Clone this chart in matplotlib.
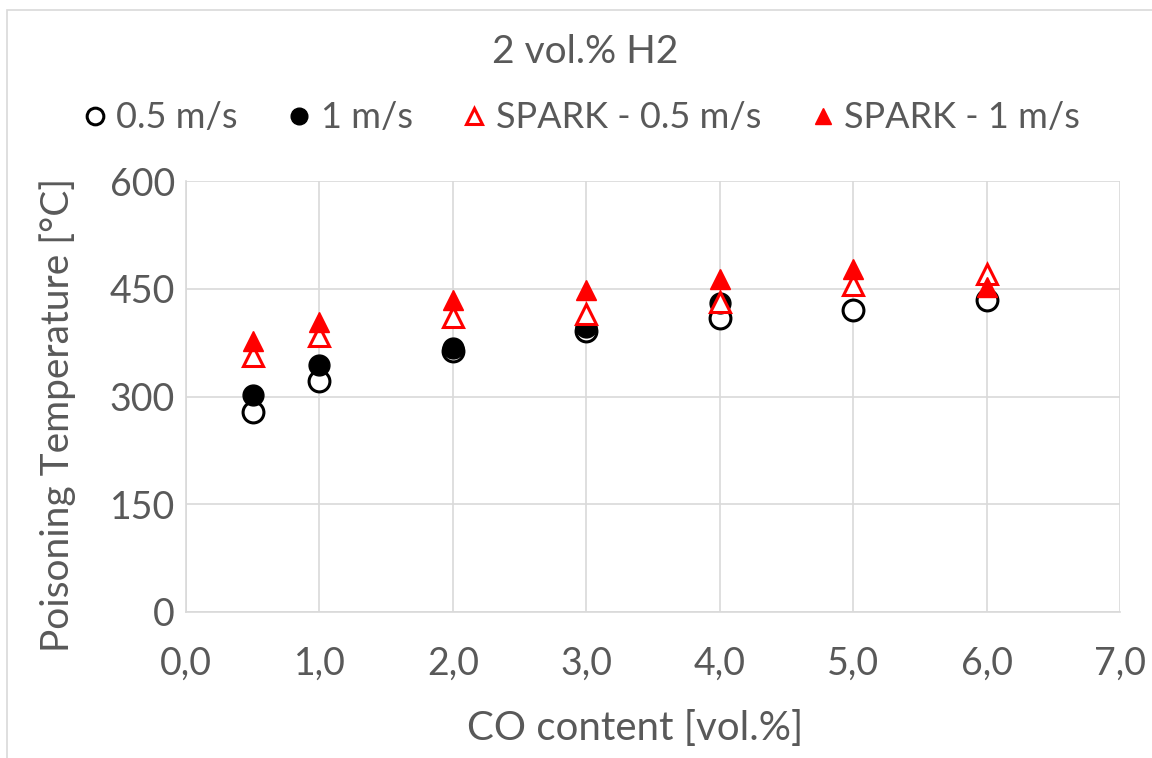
import matplotlib
matplotlib.use("Agg")
import matplotlib.pyplot as plt
from matplotlib.patches import Rectangle

plt.rcParams['font.family'] = ['Lato', 'DejaVu Sans']

# data
co_open = [0.5, 1, 2, 3, 4, 5, 6]
t_05 = [279, 322, 363, 391, 409, 420, 435]

co_filled = [0.5, 1, 2, 3, 4]
t_1 = [302, 344, 367, 397, 430]

co_spark = [0.5, 1, 2, 3, 4, 5, 6]
spark_05 = [356, 384, 410, 415, 431, 455, 471]
spark_1 = [377, 404, 434, 448, 463, 478, 453]

grey = '#595959'

fig = plt.figure(figsize=(11.52, 7.58), dpi=100)
ax = fig.add_axes([186/1152, 1 - 612/758, (1120 - 186)/1152, (612 - 181)/758])

ax.plot(co_open, t_05, 'o', ms=15, mfc='white', mec='black', mew=2.2, label='0.5 m/s', zorder=3)
ax.plot(co_filled, t_1, 'o', ms=15, mfc='black', mec='black', label='1 m/s', zorder=3)
ax.plot(co_spark, spark_05, '^', ms=14, mfc='white', mec='red', mew=2.2, label='SPARK - 0.5 m/s', zorder=4)
ax.plot(co_spark, spark_1, '^', ms=14, mfc='red', mec='red', label='SPARK - 1 m/s', zorder=4)

ax.set_xlim(0, 7)
ax.set_ylim(0, 600)
ax.set_xticks(range(0, 8))
ax.set_xticklabels(['%d,0' % i for i in range(0, 8)])
ax.set_yticks([0, 150, 300, 450, 600])
ax.grid(True, color='#d9d9d9', lw=1.2)
ax.set_axisbelow(True)
for s in ['top', 'right']:
    ax.spines[s].set_visible(False)
for s in ['left', 'bottom']:
    ax.spines[s].set_color('#d9d9d9')
    ax.spines[s].set_linewidth(1.2)
ax.tick_params(length=0, labelsize=27, colors=grey, pad=8)
ax.tick_params(axis='x', pad=24)

ax.set_xlabel('CO content [vol.%]', fontsize=29, color=grey)
ax.xaxis.set_label_coords(0.481, -0.228)
ax.set_ylabel('Poisoning Temperature [°C]', fontsize=28, color=grey)
ax.yaxis.set_label_coords(-0.118, 0.457)

fig.text(0.508, 1 - 52/758, '2 vol.% H2', fontsize=28, color=grey, ha='center', va='center')
leg = fig.legend(loc='center', bbox_to_anchor=(0.502, 1 - 118/758), ncol=4, frameon=False,
                 fontsize=26, labelcolor=grey, handletextpad=0.1, columnspacing=1.2,
                 handlelength=1.0, markerscale=0.8)

fig.patches.append(Rectangle((7/1152, -0.1), 1.2, 1 - 10/758 + 0.1, transform=fig.transFigure,
                             fill=False, ec='#d9d9d9', lw=1.2))

fig.savefig('out.png', dpi=100)
